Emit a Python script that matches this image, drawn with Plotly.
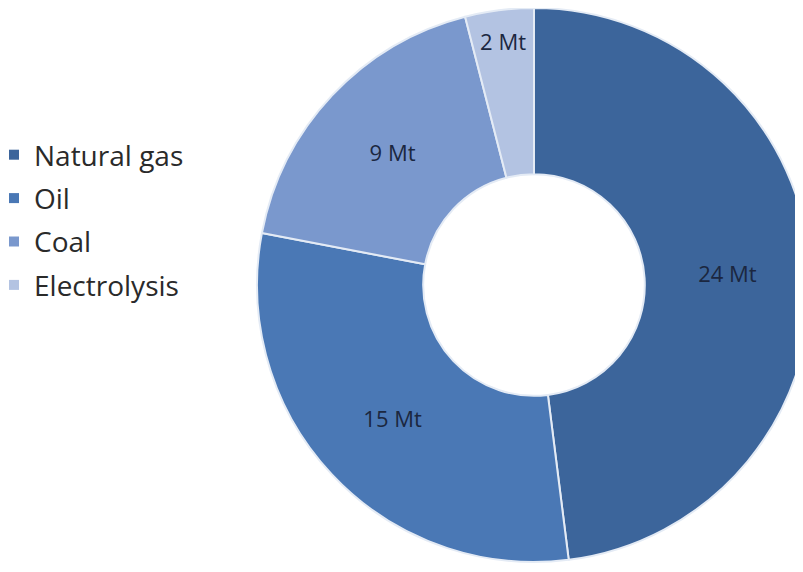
import plotly.graph_objects as go

categories = ["Natural gas", "Oil", "Coal", "Electrolysis"]
values = [24, 15, 9, 2]
unit = "Mt"
colors = ["#3c659b", "#4a78b5", "#7a98cd", "#b3c3e2"]

W, H = 803, 572

fig = go.Figure()

fig.add_trace(go.Pie(
    labels=categories,
    values=values,
    sort=False,
    direction="clockwise",
    rotation=0,
    hole=0.40,
    marker=dict(colors=colors, line=dict(color="#e4ebf5", width=2)),
    texttemplate="%{value} " + unit,
    textposition="inside",
    insidetextorientation="horizontal",
    textfont=dict(family="Open Sans", size=22, color="#1b2740"),
    showlegend=False,
    domain=dict(x=[249 / W, 1.0], y=[1 - 554 / H, 1.0]),
))

# legend entries (one per category, spaced like the reference)
for name, col in zip(categories, colors):
    fig.add_trace(go.Scatter(
        x=[None], y=[None], mode="markers", name=name, legendgroup=name,
        marker=dict(symbol="square", size=10, color=col),
        xaxis="x", yaxis="y",
    ))

fig.update_layout(
    width=W, height=H,
    margin=dict(l=0, r=0, t=0, b=0, autoexpand=False),
    paper_bgcolor="white",
    plot_bgcolor="white",
    xaxis=dict(visible=False, domain=[0, 0.01]),
    yaxis=dict(visible=False, domain=[0, 0.01]),
    showlegend=True,
    uniformtext=dict(minsize=22, mode="show"),
    legend=dict(
        x=-14 / W, xanchor="left", y=1 - 122 / H, yanchor="top",
        font=dict(family="Open Sans", size=28, color="#2a2a2a"),
        tracegroupgap=4, itemwidth=30,
        bgcolor="rgba(0,0,0,0)",
    ),
)

fig.write_html("out.html")
